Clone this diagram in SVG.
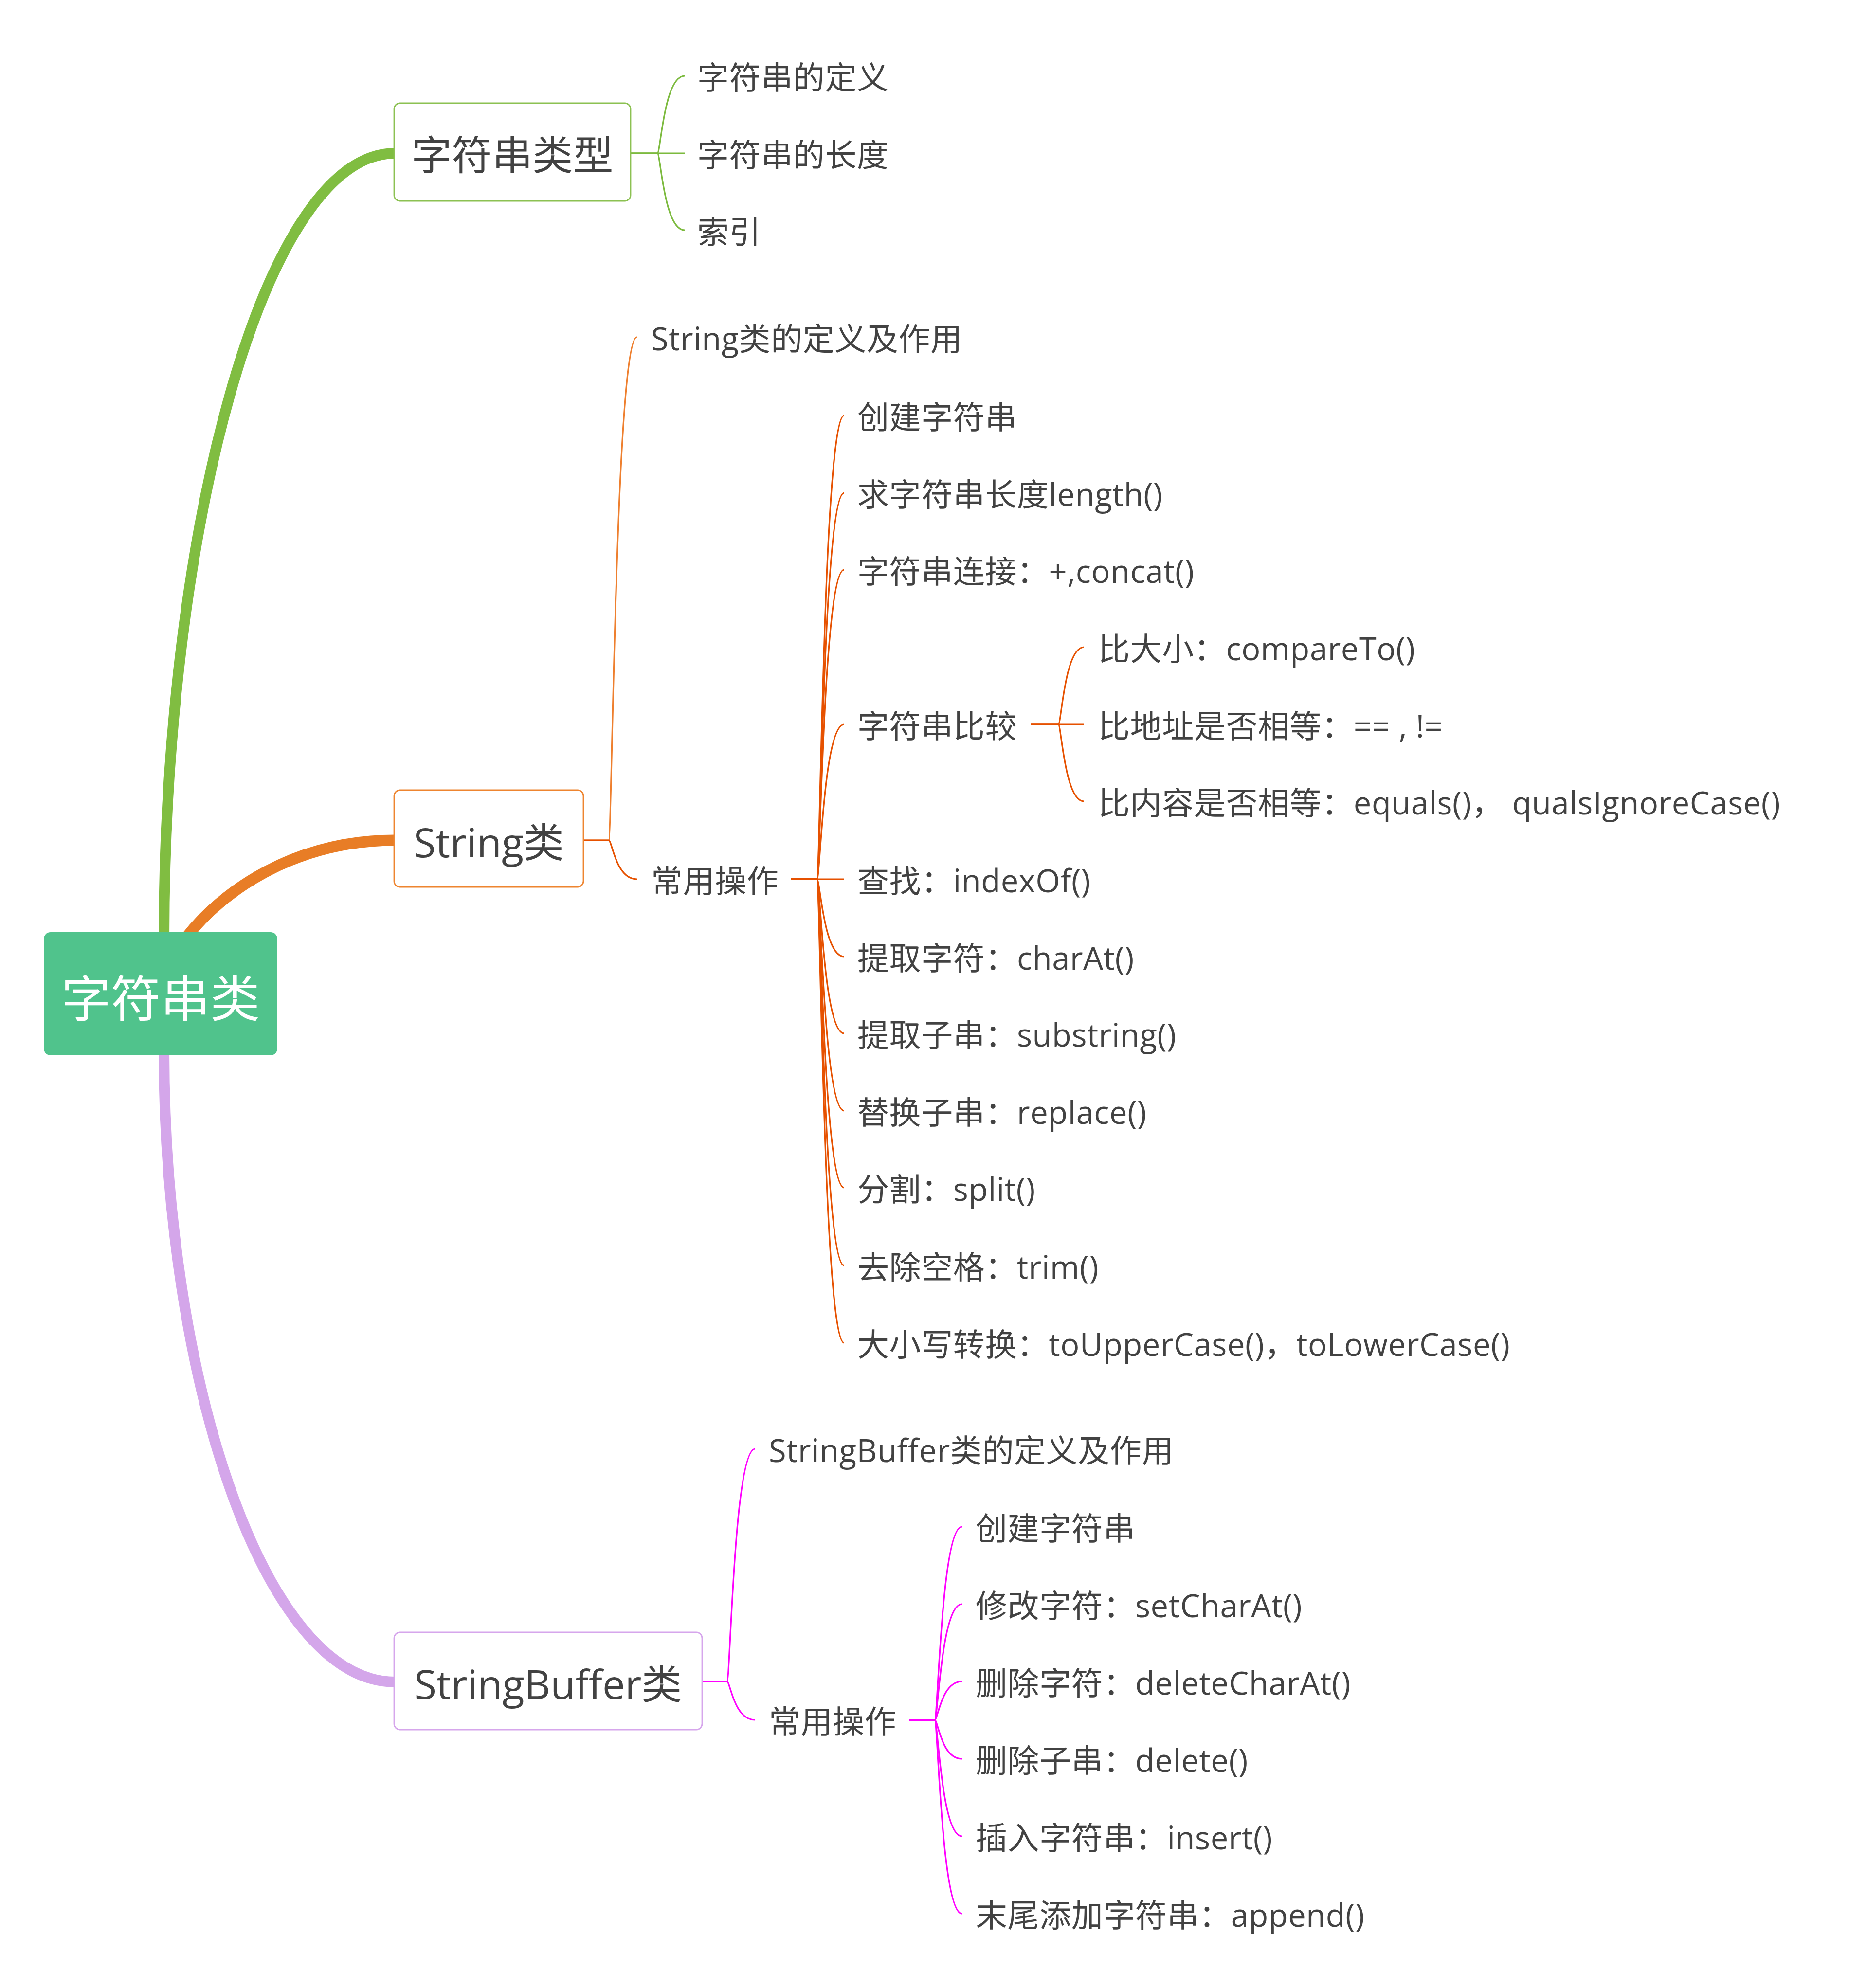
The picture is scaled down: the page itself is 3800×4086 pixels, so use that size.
<svg xmlns="http://www.w3.org/2000/svg" width="3800" height="4086" viewBox="0 0 3800 4086">
<style>
.t{font-family:"Open Sans","Noto Sans CJK SC",sans-serif;fill:#424242}
.l{font-size:65px;letter-spacing:0.6px}
.b{font-size:83px}
.c{fill:none;stroke-width:3.2}
.g{stroke:#7CBA3E}
.o{stroke:#E65100}
.ol{stroke:#EE7F2E}
.m{stroke:#FF00FF}
.box{fill:#FFFFFF;stroke-width:2.8}
.main{fill:none}
</style>
<rect width="3800" height="4086" fill="#FFFFFF"/>
<g id="connectors">
<path class="main" d="M337 1930C337 1100 540 315 812 315" stroke="#80BD41" stroke-width="22"/>
<path class="main" d="M384 1925C454 1836 600 1727 812 1727" stroke="#E87D26" stroke-width="23"/>
<path class="main" d="M337 2160C337 2826 540 3457 812 3457" stroke="#D4A6EA" stroke-width="22"/>
<path class="c g" d="M1296 315H1351C1357.7 315 1364.4 156 1407 156"/>
<path class="c g" d="M1296 315H1407"/>
<path class="c g" d="M1296 315H1351C1357.7 315 1364.4 473 1407 473"/>
<path class="c ol" d="M1199 1727H1251C1258 1727 1265 693 1309 693"/>
<path class="c o" d="M1199 1727H1251C1258 1727 1265 1807 1309 1807"/>
<path class="c o" d="M1626 1807H1679C1685.7 1807 1692.4 854 1735 854"/>
<path class="c o" d="M1626 1807H1679C1685.7 1807 1692.4 1013 1735 1013"/>
<path class="c o" d="M1626 1807H1679C1685.7 1807 1692.4 1171 1735 1171"/>
<path class="c o" d="M1626 1807H1679C1685.7 1807 1692.4 1489 1735 1489"/>
<path class="c o" d="M1626 1807H1735"/>
<path class="c o" d="M1626 1807H1679C1685.7 1807 1692.4 1966 1735 1966"/>
<path class="c o" d="M1626 1807H1679C1685.7 1807 1692.4 2124 1735 2124"/>
<path class="c o" d="M1626 1807H1679C1685.7 1807 1692.4 2283 1735 2283"/>
<path class="c o" d="M1626 1807H1679C1685.7 1807 1692.4 2441 1735 2441"/>
<path class="c o" d="M1626 1807H1679C1685.7 1807 1692.4 2601 1735 2601"/>
<path class="c o" d="M1626 1807H1679C1685.7 1807 1692.4 2760 1735 2760"/>
<path class="c o" d="M2119 1489H2175C2181.4 1489 2187.7 1330 2228 1330"/>
<path class="c o" d="M2119 1489H2228"/>
<path class="c o" d="M2119 1489H2175C2181.4 1489 2187.7 1647 2228 1647"/>
<path class="c m" d="M1443 3456H1494C1501 3456 1508 2978 1552 2978"/>
<path class="c m" d="M1443 3456H1494C1501 3456 1508 3535 1552 3535"/>
<path class="c m" d="M1868 3535H1921C1927.7 3535 1934.4 3138 1977 3138"/>
<path class="c m" d="M1868 3535H1921C1927.7 3535 1934.4 3297 1977 3297"/>
<path class="c m" d="M1868 3535H1921C1927.7 3535 1934.4 3456 1977 3456"/>
<path class="c m" d="M1868 3535H1921C1927.7 3535 1934.4 3615 1977 3615"/>
<path class="c m" d="M1868 3535H1921C1927.7 3535 1934.4 3774 1977 3774"/>
<path class="c m" d="M1868 3535H1921C1927.7 3535 1934.4 3933 1977 3933"/>
</g>
<g id="root">
<rect x="90" y="1916" width="480" height="253" rx="14" fill="#50C38C"/>
<text class="t" x="330" y="2090" font-size="102" text-anchor="middle" style="fill:#FFFFFF">字符串类</text>
</g>
<g id="node-type">
<rect class="box" x="810" y="212" width="486" height="201" rx="12" stroke="#8CC152"/>
<text class="t b" x="1053" y="349" text-anchor="middle">字符串类型</text>
</g>
<g id="node-type-1"><text class="t l" x="1433" y="183">字符串的定义</text></g>
<g id="node-type-2"><text class="t l" x="1433" y="342">字符串的长度</text></g>
<g id="node-type-3"><text class="t l" x="1433" y="500">索引</text></g>
<g id="node-string">
<rect class="box" x="810" y="1624" width="389" height="199" rx="12" stroke="#EE8530"/>
<text class="t b" x="1004.5" y="1762" text-anchor="middle">String类</text>
</g>
<g id="node-string-def"><text class="t l" x="1338" y="720">String类的定义及作用</text></g>
<g id="node-string-ops"><text class="t l" x="1338" y="1834">常用操作</text></g>
<g id="node-s1"><text class="t l" x="1762" y="881">创建字符串</text></g>
<g id="node-s2"><text class="t l" x="1762" y="1040">求字符串长度length()</text></g>
<g id="node-s3"><text class="t l" x="1762" y="1198">字符串连接：+,concat()</text></g>
<g id="node-s4"><text class="t l" x="1762" y="1516">字符串比较</text></g>
<g id="node-s4-1"><text class="t l" x="2257" y="1357">比大小：compareTo()</text></g>
<g id="node-s4-2"><text class="t l" x="2257" y="1516">比地址是否相等：== , !=</text></g>
<g id="node-s4-3"><text class="t l" x="2257" y="1674">比内容是否相等：equals()， qualsIgnoreCase()</text></g>
<g id="node-s5"><text class="t l" x="1762" y="1834">查找：indexOf()</text></g>
<g id="node-s6"><text class="t l" x="1762" y="1993">提取字符：charAt()</text></g>
<g id="node-s7"><text class="t l" x="1762" y="2151">提取子串：substring()</text></g>
<g id="node-s8"><text class="t l" x="1762" y="2310">替换子串：replace()</text></g>
<g id="node-s9"><text class="t l" x="1762" y="2468">分割：split()</text></g>
<g id="node-s10"><text class="t l" x="1762" y="2628">去除空格：trim()</text></g>
<g id="node-s11"><text class="t l" x="1762" y="2787">大小写转换：toUpperCase()，toLowerCase()</text></g>
<g id="node-buffer">
<rect class="box" x="810" y="3355" width="633" height="200" rx="12" stroke="#D6A6EC"/>
<text class="t b" x="1126.5" y="3492" text-anchor="middle">StringBuffer类</text>
</g>
<g id="node-buffer-def"><text class="t l" x="1580" y="3005">StringBuffer类的定义及作用</text></g>
<g id="node-buffer-ops"><text class="t l" x="1580" y="3562">常用操作</text></g>
<g id="node-b1"><text class="t l" x="2005" y="3165">创建字符串</text></g>
<g id="node-b2"><text class="t l" x="2005" y="3324">修改字符：setCharAt()</text></g>
<g id="node-b3"><text class="t l" x="2005" y="3483">删除字符：deleteCharAt()</text></g>
<g id="node-b4"><text class="t l" x="2005" y="3642">删除子串：delete()</text></g>
<g id="node-b5"><text class="t l" x="2005" y="3801">插入字符串：insert()</text></g>
<g id="node-b6"><text class="t l" x="2005" y="3960">末尾添加字符串：append()</text></g>
</svg>
